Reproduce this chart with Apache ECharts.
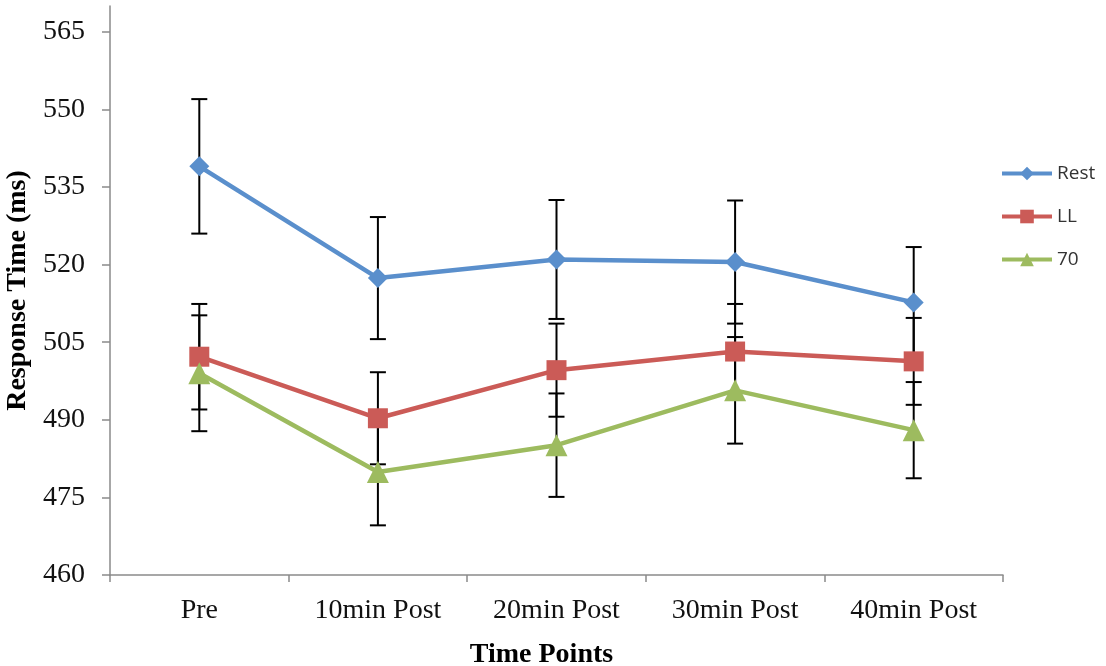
<!DOCTYPE html>
<html><head><meta charset="utf-8">
<script src="https://cdn.jsdelivr.net/npm/echarts@6/dist/echarts.min.js"></script>
<style>html,body{margin:0;padding:0;background:#fff}#c{width:1106px;height:666px}</style>
</head><body><div id="c"></div>
<script>
const categories = ['Pre', '10min Post', '20min Post', '30min Post', '40min Post'];
const yTicks = [460, 475, 490, 505, 520, 535, 550, 565];
const rest = [539.0, 517.4, 521.0, 520.5, 512.7];
const restErr = [13.0, 11.8, 11.5, 11.9, 10.7];
const ll = [502.2, 490.3, 499.6, 503.2, 501.3];
const llErr = [10.2, 8.9, 9.0, 9.2, 8.4];
const seventy = [499.0, 479.9, 485.1, 495.7, 488.0];
const seventyErr = [11.2, 10.3, 10.0, 10.3, 9.3];

const colors = ['#5A8FCC', '#CB5B57', '#9DBB5F'];

function errData(vals, errs) {
  return vals.map((v, i) => [i, v - errs[i], v + errs[i]]);
}
function errSeries(vals, errs) {
  return {
    type: 'custom',
    z: 1,
    silent: true,
    data: errData(vals, errs),
    renderItem: function (params, api) {
      const lo = api.coord([api.value(0), api.value(1)]);
      const hi = api.coord([api.value(0), api.value(2)]);
      const w = 8;
      const st = { stroke: '#000', lineWidth: 2, fill: null };
      return {
        type: 'group',
        children: [
          { type: 'line', shape: { x1: hi[0], y1: hi[1], x2: lo[0], y2: lo[1] }, style: st },
          { type: 'line', shape: { x1: hi[0] - w, y1: hi[1], x2: hi[0] + w, y2: hi[1] }, style: st },
          { type: 'line', shape: { x1: lo[0] - w, y1: lo[1], x2: lo[0] + w, y2: lo[1] }, style: st }
        ]
      };
    }
  };
}
function lineSeries(name, vals, color, symbol, size) {
  return {
    name: name, type: 'line', data: vals, z: 3,
    symbol: symbol, symbolSize: size,
    lineStyle: { color: color, width: 4.5 },
    itemStyle: { color: color },
    emphasis: { disabled: true }
  };
}

const chart = echarts.init(document.getElementById('c'), null, { renderer: 'canvas' });
chart.setOption({
  animation: false,
  color: colors,
  grid: { left: 110, right: 103, top: 6, bottom: 91, containLabel: false, outerBoundsMode: 'none' },
  legend: {
    orient: 'vertical', left: 995, top: 159,
    itemWidth: 50, itemHeight: 17, itemGap: 24,
    lineStyle: { width: 4 },
    data: ['Rest', 'LL', '70'],
    textStyle: { fontFamily: 'Open Sans', fontSize: 19, color: '#333' }
  },
  xAxis: {
    type: 'category', data: categories,
    axisLine: { lineStyle: { color: '#8a8a8a', width: 1.5 } },
    axisTick: { show: true, interval: 0, length: 7, lineStyle: { color: '#8a8a8a', width: 1.5 } },
    axisLabel: { interval: 0, fontFamily: 'Liberation Serif', fontSize: 28, color: '#111', margin: 22 },
    name: 'Time Points', nameLocation: 'middle', nameGap: 66,
    nameTextStyle: { fontFamily: 'Liberation Serif', fontSize: 28, fontWeight: 'bold', color: '#000', padding: [0, 30, 0, 0] }
  },
  yAxis: {
    type: 'value', min: 460, max: 570,
    splitLine: { show: false },
    axisLine: { show: true, lineStyle: { color: '#8a8a8a', width: 1.5 } },
    axisTick: { show: true, length: 8, customValues: yTicks, lineStyle: { color: '#8a8a8a', width: 1.5 } },
    axisLabel: { customValues: yTicks, fontFamily: 'Liberation Serif', fontSize: 28, color: '#111', margin: 25 },
    name: 'Response Time (ms)', nameLocation: 'middle', nameGap: 70, nameRotate: 90,
    nameTextStyle: { fontFamily: 'Liberation Serif', fontSize: 28, fontWeight: 'bold', color: '#000' }
  },
  series: [
    errSeries(rest, restErr),
    errSeries(ll, llErr),
    errSeries(seventy, seventyErr),
    lineSeries('Rest', rest, colors[0], 'diamond', 20),
    lineSeries('LL', ll, colors[1], 'rect', 20),
    lineSeries('70', seventy, colors[2], 'triangle', 22)
  ]
});
</script>
</body></html>
